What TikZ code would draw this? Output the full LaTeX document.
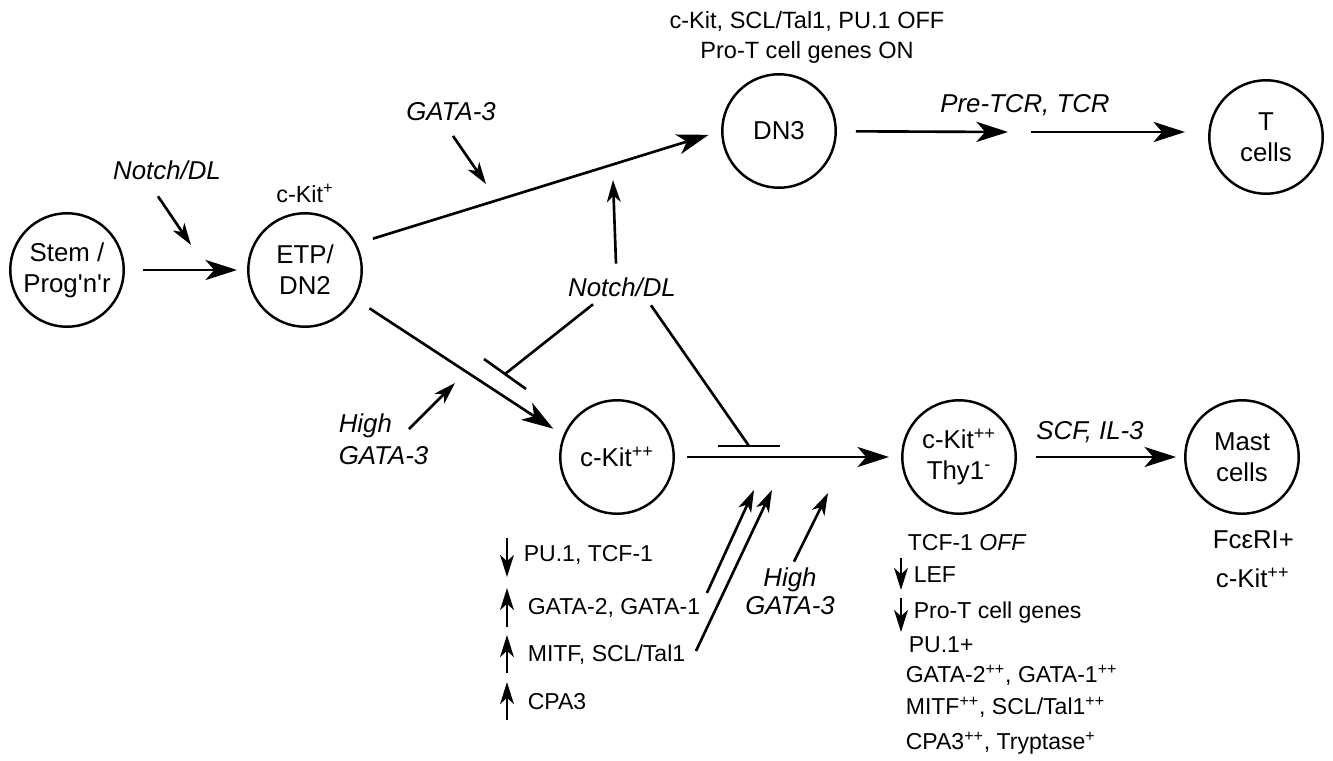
\documentclass[tikz,border=0pt]{standalone}
\usepackage{fontspec}
\setmainfont{Liberation Sans}
\usetikzlibrary{calc,arrows.meta}

\begin{document}
\begin{tikzpicture}[x=0.02cm, y=-0.02cm, line width=1.5pt,
  cell/.style={circle, draw, line width=1.4pt, minimum size=2.27cm, inner sep=0pt, align=center, font=\fontsize{14.7}{17.6}\selectfont},
  sig/.style={inner sep=2pt, font=\fontsize{14.7}{18}\selectfont\itshape},
  gene/.style={inner sep=2pt, anchor=west, font=\fontsize{13.1}{16}\selectfont},
  flow/.style={-{Stealth[length=18pt, width=11.5pt, inset=5pt]}},
  cue/.style={-{Stealth[length=12.5pt, width=7.8pt, inset=3.5pt]}}]
  \useasboundingbox (0,0) rectangle (1333,761);

  \node[cell] (stem) at (67,270) {Stem /\\Prog\textquotesingle n\textquotesingle r};
  \node[cell] (etp) at (305,270) {ETP/\\DN2};
  \node[cell] (dn3) at (779,131) {DN3};
  \node[cell] (tcells) at (1266,137) {T\\cells};
  \node[cell] (ckit) at (617,457) {c-Kit\textsuperscript{++}};
  \node[cell] (thy) at (959,457) {c-Kit\textsuperscript{++}\\Thy1\textsuperscript{-}};
  \node[cell] (mast) at (1242,457) {Mast\\cells};

  \node[inner sep=2pt, font=\fontsize{13.3}{16}\selectfont] (ckitp) at (305,193) {c-Kit\textsuperscript{+}};
  \node[inner sep=2pt, align=center, font=\fontsize{13.4}{17}\selectfont] (dn3txt) at (807,37) {c-Kit, SCL/Tal1, PU.1 OFF\\Pro-T cell genes ON};
  \node[sig] (notcha) at (167,170) {Notch/DL};
  \node[sig] (gataa) at (451,112) {GATA-3};
  \node[sig] (tcr) at (1025,105) {Pre-TCR, TCR};
  \node[sig] (notchb) at (622,287) {Notch/DL};
  \node[sig, align=left, anchor=west, font=\fontsize{14.7}{18}\selectfont\itshape] (higha) at (334,439) {High\\GATA-3};
  \node[sig, align=center, font=\fontsize{14.7}{16}\selectfont\itshape] (highb) at (790,591) {High\\GATA-3};
  \node[sig] (scf) at (1090,432) {SCF, IL-3};
  \node[inner sep=2pt, anchor=west, font=\fontsize{14.7}{18}\selectfont] (fce) at (1208,540) {FcεRI+};
  \node[inner sep=2pt, anchor=west, font=\fontsize{14.7}{18}\selectfont] (ckitm) at (1211,578) {c-Kit\textsuperscript{++}};

  \node[gene] (pu) at (519,555) {PU.1, TCF-1};
  \node[gene] (gata21) at (523,608) {GATA-2, GATA-1};
  \node[gene] (mitf) at (523,655) {MITF, SCL/Tal1};
  \node[gene] (cpa) at (523,702) {CPA3};

  \node[gene] (tcf) at (903,543) {TCF-1 \textit{OFF}};
  \node[gene] (lef) at (909,575) {LEF};
  \node[gene] (prot) at (909,613) {Pro-T cell genes};
  \node[gene] (pup) at (904,645) {PU.1+};
  \node[gene] (gatapp) at (901,675) {GATA-2\textsuperscript{++}, GATA-1\textsuperscript{++}};
  \node[gene] (mitfpp) at (901,707) {MITF\textsuperscript{++}, SCL/Tal1\textsuperscript{++}};
  \node[gene] (cpapp) at (901,743) {CPA3\textsuperscript{++}, Tryptase\textsuperscript{+}};

  \coordinate (tcra) at (1008,132);
  \coordinate (tcrb) at (1031,132);
  \draw[flow, shorten <=0.36cm, shorten >=0.2cm] (stem) -- (etp);
  \draw[flow, shorten <=0.34cm, shorten >=0.26cm] (etp.27) -- (dn3.180);
  \draw[flow, shorten <=0.34cm, shorten >=0.24cm] (etp.-30) -- (ckit.158);
  \draw[flow, shorten <=0.38cm] (dn3) -- (tcra);
  \draw[flow, shorten >=0.46cm] (tcrb) -- (tcrb -| tcells.west);
  \draw[flow, shorten <=0.24cm, shorten >=0.24cm] (ckit) -- (thy);
  \draw[flow, shorten <=0.38cm, shorten >=0.16cm] (thy) -- (mast);

  \coordinate (c1) at (191,245);
  \coordinate (c2) at (486,184);
  \coordinate (c3) at (613,180);
  \coordinate (c4) at (455,383);
  \coordinate (c5) at (754,490);
  \coordinate (c6) at (772,490);
  \coordinate (c7) at (828,493);
  \draw[cue] ($(notcha.south)+(-9,12)$) -- (c1);
  \draw[cue] ($(gataa.south)+(2,10)$) -- (c2);
  \draw[cue] ($(notchb.north)+(-6,-9)$) -- (c3);
  \draw[cue] ($(higha.west)+(75,-10)$) -- (c4);
  \draw[cue] ($(gata21.east)+(2,-15)$) -- (c5);
  \draw[cue] ($(mitf.east)+(6,-4)$) -- (c6);
  \draw[cue] ($(highb.north)+(4,-1)$) -- (c7);

  \coordinate (blk1) at (505,374);
  \coordinate (blk2) at (749,446);
  \draw ($(notchb.south)+(-29,3)$) -- (blk1);
  \draw ($(blk1)+(-21,-15)$) -- ($(blk1)+(21,15)$);
  \draw ($(notchb.south)+(29,4)$) -- (blk2);
  \draw ($(blk2)+(-31,0)$) -- ($(blk2)+(31,0)$);

  \draw[cue] ($(pu.west)+(-12,-17)$) -- ($(pu.west)+(-12,22)$);
  \draw[cue] ($(gata21.west)+(-16,19)$) -- ($(gata21.west)+(-16,-20)$);
  \draw[cue] ($(mitf.west)+(-16,18)$) -- ($(mitf.west)+(-16,-20)$);
  \draw[cue] ($(cpa.west)+(-16,18)$) -- ($(cpa.west)+(-16,-20)$);
  \draw[cue] ($(lef.west)+(-8,-17)$) -- ($(lef.west)+(-8,15)$);
  \draw[cue] ($(prot.west)+(-8,-15)$) -- ($(prot.west)+(-8,19)$);
\end{tikzpicture}
\end{document}
